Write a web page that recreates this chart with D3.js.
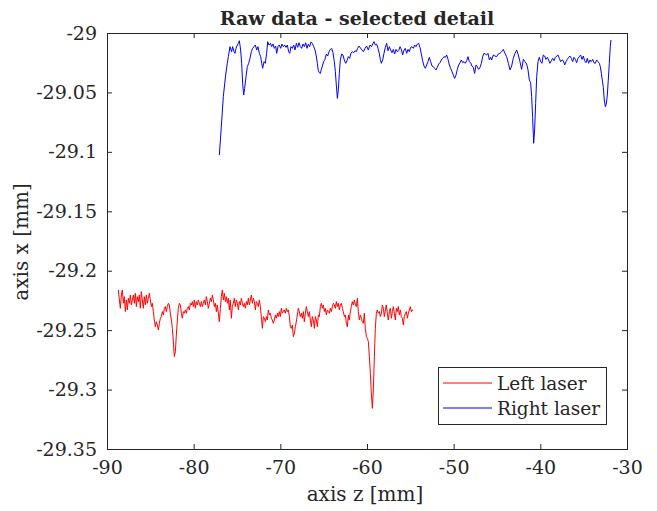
<!DOCTYPE html>
<html>
<head>
<meta charset="utf-8">
<script src="https://cdn.jsdelivr.net/npm/d3@7/dist/d3.min.js"></script>
<style>
  body { margin: 0; background: #fff; }
  svg { display: block; }
  text { font-family: "DejaVu Serif", serif; fill: #262626; }
</style>
</head>
<body>
<svg id="chart" width="657" height="511"></svg>
<script>
// Axis ticks and labels
const zTicks = [-90, -80, -70, -60, -50, -40, -30];
const zTickLabels = ["-90", "-80", "-70", "-60", "-50", "-40", "-30"];
const xTicks = [-29, -29.05, -29.1, -29.15, -29.2, -29.25, -29.3, -29.35];
const xTickLabels = ["-29", "-29.05", "-29.1", "-29.15", "-29.2", "-29.25", "-29.3", "-29.35"];

const seriesNames = ["Left laser", "Right laser"];
const seriesColors = ["#ff0000", "#0000ff"];

// Left laser: axis z [mm]
const zLeft = [
  -88.69,-88.57,-88.46,-88.34,-88.23,-88.11,-88.00,-87.88,-87.77,-87.65,-87.54,-87.42,-87.31,-87.19,-87.07,-86.96,-86.84,-86.73,-86.61,-86.50,-86.38,-86.27,-86.15,-86.04,-85.92,-85.81,
  -85.69,-85.57,-85.46,-85.34,-85.23,-85.11,-85.00,-84.88,-84.77,-84.65,-84.54,-84.42,-84.31,-84.19,-84.07,-83.96,-83.84,-83.73,-83.61,-83.50,-83.38,-83.27,-83.15,-83.04,-82.92,-82.81,
  -82.69,-82.57,-82.46,-82.34,-82.23,-82.11,-82.00,-81.88,-81.77,-81.65,-81.54,-81.42,-81.31,-81.19,-81.07,-80.96,-80.84,-80.73,-80.61,-80.50,-80.38,-80.27,-80.15,-80.04,-79.92,-79.81,
  -79.69,-79.57,-79.46,-79.34,-79.23,-79.11,-79.00,-78.88,-78.77,-78.65,-78.54,-78.42,-78.31,-78.19,-78.07,-77.96,-77.84,-77.73,-77.61,-77.50,-77.38,-77.27,-77.15,-77.04,-76.92,-76.81,
  -76.69,-76.57,-76.46,-76.34,-76.23,-76.11,-76.00,-75.88,-75.77,-75.65,-75.54,-75.42,-75.31,-75.19,-75.07,-74.96,-74.84,-74.73,-74.61,-74.50,-74.38,-74.27,-74.15,-74.04,-73.92,-73.81,
  -73.69,-73.57,-73.46,-73.34,-73.23,-73.11,-73.00,-72.88,-72.77,-72.65,-72.54,-72.42,-72.31,-72.19,-72.07,-71.96,-71.84,-71.73,-71.61,-71.50,-71.38,-71.27,-71.15,-71.04,-70.92,-70.81,
  -70.69,-70.57,-70.46,-70.34,-70.23,-70.11,-70.00,-69.88,-69.77,-69.65,-69.54,-69.42,-69.31,-69.19,-69.07,-68.96,-68.84,-68.73,-68.61,-68.50,-68.38,-68.27,-68.15,-68.04,-67.92,-67.81,
  -67.69,-67.57,-67.46,-67.34,-67.23,-67.11,-67.00,-66.88,-66.77,-66.65,-66.54,-66.42,-66.31,-66.19,-66.07,-65.96,-65.84,-65.73,-65.61,-65.50,-65.38,-65.27,-65.15,-65.04,-64.92,-64.81,
  -64.69,-64.57,-64.46,-64.34,-64.23,-64.11,-64.00,-63.88,-63.77,-63.65,-63.54,-63.42,-63.31,-63.19,-63.07,-62.96,-62.84,-62.73,-62.61,-62.50,-62.38,-62.27,-62.15,-62.04,-61.92,-61.81,
  -61.69,-61.57,-61.46,-61.34,-61.23,-61.11,-61.00,-60.88,-60.77,-60.65,-60.54,-60.42,-60.31,-60.19,-60.07,-59.96,-59.84,-59.73,-59.61,-59.50,-59.38,-59.27,-59.15,-59.04,-58.92,-58.81,
  -58.69,-58.57,-58.46,-58.34,-58.23,-58.11,-58.00,-57.88,-57.77,-57.65,-57.54,-57.42,-57.31,-57.19,-57.07,-56.96,-56.84,-56.73,-56.61,-56.50,-56.38,-56.27,-56.15,-56.04,-55.92,-55.81,
  -55.69,-55.57,-55.46,-55.34,-55.23,-55.11,-55.00,-54.88,-54.77,-54.65
];
// Left laser: axis x [mm]
const xLeft = [
  -29.2162,-29.2246,-29.2316,-29.2204,-29.2162,-29.2274,-29.2218,-29.2344,-29.2246,-29.2330,-29.2232,-29.2274,-29.2204,-29.2288,-29.2246,-29.2204,-29.2274,-29.2190,-29.2302,-29.2218,-29.2260,-29.2204,-29.2316,-29.2176,-29.2246,-29.2316,
  -29.2218,-29.2288,-29.2204,-29.2274,-29.2232,-29.2190,-29.2246,-29.2302,-29.2274,-29.2344,-29.2415,-29.2471,-29.2429,-29.2457,-29.2499,-29.2443,-29.2400,-29.2386,-29.2344,-29.2372,-29.2316,-29.2302,-29.2344,-29.2302,-29.2274,-29.2288,
  -29.2358,-29.2415,-29.2485,-29.2597,-29.2723,-29.2681,-29.2541,-29.2415,-29.2316,-29.2274,-29.2288,-29.2358,-29.2400,-29.2344,-29.2358,-29.2330,-29.2358,-29.2316,-29.2302,-29.2330,-29.2274,-29.2288,-29.2260,-29.2302,-29.2246,-29.2316,
  -29.2260,-29.2288,-29.2246,-29.2274,-29.2302,-29.2260,-29.2302,-29.2274,-29.2246,-29.2288,-29.2218,-29.2260,-29.2316,-29.2274,-29.2232,-29.2260,-29.2204,-29.2246,-29.2302,-29.2274,-29.2344,-29.2288,-29.2358,-29.2429,-29.2316,-29.2218,
  -29.2162,-29.2246,-29.2190,-29.2260,-29.2218,-29.2274,-29.2232,-29.2330,-29.2246,-29.2400,-29.2302,-29.2274,-29.2232,-29.2302,-29.2246,-29.2274,-29.2330,-29.2260,-29.2288,-29.2232,-29.2274,-29.2302,-29.2274,-29.2316,-29.2260,-29.2288,
  -29.2232,-29.2288,-29.2246,-29.2204,-29.2274,-29.2232,-29.2260,-29.2330,-29.2260,-29.2274,-29.2302,-29.2246,-29.2302,-29.2386,-29.2485,-29.2386,-29.2400,-29.2429,-29.2386,-29.2415,-29.2330,-29.2372,-29.2358,-29.2400,-29.2415,-29.2443,
  -29.2415,-29.2372,-29.2400,-29.2358,-29.2386,-29.2344,-29.2386,-29.2316,-29.2358,-29.2344,-29.2330,-29.2358,-29.2316,-29.2344,-29.2330,-29.2386,-29.2471,-29.2485,-29.2457,-29.2555,-29.2527,-29.2471,-29.2429,-29.2372,-29.2316,-29.2344,
  -29.2386,-29.2358,-29.2400,-29.2344,-29.2429,-29.2358,-29.2302,-29.2344,-29.2386,-29.2344,-29.2415,-29.2471,-29.2386,-29.2415,-29.2485,-29.2386,-29.2415,-29.2471,-29.2372,-29.2386,-29.2302,-29.2274,-29.2316,-29.2288,-29.2344,-29.2316,
  -29.2372,-29.2330,-29.2344,-29.2358,-29.2316,-29.2344,-29.2302,-29.2274,-29.2288,-29.2316,-29.2260,-29.2302,-29.2274,-29.2330,-29.2288,-29.2274,-29.2316,-29.2344,-29.2386,-29.2372,-29.2443,-29.2471,-29.2372,-29.2415,-29.2344,-29.2302,
  -29.2260,-29.2288,-29.2246,-29.2288,-29.2302,-29.2232,-29.2344,-29.2415,-29.2372,-29.2400,-29.2429,-29.2443,-29.2358,-29.2485,-29.2555,-29.2569,-29.2597,-29.2723,-29.2863,-29.3031,-29.3158,-29.3003,-29.2723,-29.2485,-29.2358,-29.2330,
  -29.2358,-29.2344,-29.2386,-29.2358,-29.2288,-29.2316,-29.2386,-29.2330,-29.2288,-29.2358,-29.2415,-29.2344,-29.2316,-29.2400,-29.2344,-29.2302,-29.2358,-29.2415,-29.2316,-29.2344,-29.2302,-29.2372,-29.2330,-29.2386,-29.2400,-29.2457,
  -29.2386,-29.2358,-29.2344,-29.2400,-29.2358,-29.2330,-29.2302,-29.2344,-29.2330,-29.2336
];

// Right laser: axis z [mm]
const zRight = [
  -77.04,-76.81,-76.58,-76.31,-76.12,-76.00,-75.81,-75.69,-75.62,-75.50,-75.35,-75.23,-75.12,-74.96,-74.85,-74.73,-74.58,-74.46,-74.35,-74.23,
  -74.12,-73.96,-73.81,-73.65,-73.50,-73.35,-73.19,-73.04,-72.88,-72.73,-72.58,-72.42,-72.27,-72.15,-72.04,-71.88,-71.73,-71.58,-71.46,-71.31,
  -71.15,-71.00,-70.85,-70.69,-70.54,-70.42,-70.27,-70.12,-69.96,-69.81,-69.65,-69.50,-69.35,-69.19,-69.04,-68.92,-68.77,-68.62,-68.46,-68.31,
  -68.15,-68.00,-67.85,-67.69,-67.54,-67.38,-67.23,-67.08,-66.92,-66.77,-66.62,-66.46,-66.31,-66.15,-66.00,-65.85,-65.73,-65.62,-65.50,-65.38,
  -65.27,-65.15,-65.00,-64.85,-64.69,-64.54,-64.38,-64.23,-64.08,-63.92,-63.77,-63.65,-63.54,-63.42,-63.31,-63.19,-63.08,-62.92,-62.77,-62.62,
  -62.46,-62.31,-62.15,-62.00,-61.85,-61.69,-61.54,-61.38,-61.23,-61.08,-60.92,-60.58,-60.42,-60.23,-60.04,-59.85,-59.65,-59.46,-59.31,-59.19,
  -59.04,-58.89,-58.73,-58.58,-58.46,-58.35,-58.19,-58.04,-57.89,-57.73,-57.58,-57.42,-57.27,-57.12,-56.96,-56.81,-56.65,-56.50,-56.35,-56.19,
  -56.04,-55.89,-55.73,-55.58,-55.42,-55.27,-55.12,-54.96,-54.81,-54.65,-54.50,-54.35,-54.19,-54.04,-53.89,-53.73,-53.58,-53.42,-53.27,-53.12,
  -52.96,-52.81,-52.65,-52.50,-52.35,-52.19,-52.04,-51.89,-51.73,-51.58,-51.42,-51.27,-51.12,-50.96,-50.81,-50.65,-50.50,-50.35,-50.19,-50.04,
  -49.89,-49.73,-49.58,-49.42,-49.27,-49.12,-48.96,-48.81,-48.65,-48.50,-48.35,-48.19,-48.04,-47.89,-47.73,-47.58,-47.42,-47.27,-47.12,-46.96,
  -46.81,-46.65,-46.50,-46.35,-46.19,-46.04,-45.88,-45.73,-45.62,-45.42,-45.23,-45.04,-44.85,-44.66,-44.46,-44.27,-44.08,-43.89,-43.69,-43.50,
  -43.31,-43.12,-42.92,-42.73,-42.54,-42.35,-42.16,-41.96,-41.77,-41.58,-41.42,-41.27,-41.12,-41.00,-40.89,-40.77,-40.66,-40.54,-40.42,-40.27,
  -40.12,-39.96,-39.81,-39.66,-39.50,-39.35,-39.19,-39.04,-38.89,-38.73,-38.58,-38.42,-38.27,-38.12,-37.96,-37.81,-37.66,-37.50,-37.35,-37.19,
  -37.04,-36.89,-36.73,-36.58,-36.42,-36.27,-36.12,-35.96,-35.81,-35.66,-35.50,-35.35,-35.19,-35.04,-34.89,-34.73,-34.58,-34.43,-34.27,-34.12,
  -33.96,-33.81,-33.66,-33.50,-33.35,-33.19,-33.08,-32.96,-32.85,-32.73,-32.62,-32.50,-32.39,-32.27,-32.16,-32.04,-31.93,-31.85
];
// Right laser: axis x [mm]
const xRight = [
  -29.1027,-29.0788,-29.0536,-29.0354,-29.0255,-29.0199,-29.0115,-29.0143,-29.0157,-29.0115,-29.0157,-29.0171,-29.0129,-29.0101,-29.0087,-29.0065,-29.0143,-29.0255,-29.0424,-29.0522,
  -29.0466,-29.0368,-29.0283,-29.0255,-29.0213,-29.0157,-29.0129,-29.0115,-29.0101,-29.0143,-29.0115,-29.0171,-29.0199,-29.0255,-29.0297,-29.0241,-29.0255,-29.0171,-29.0073,-29.0101,
  -29.0087,-29.0115,-29.0093,-29.0129,-29.0110,-29.0171,-29.0115,-29.0101,-29.0129,-29.0093,-29.0115,-29.0101,-29.0121,-29.0101,-29.0157,-29.0171,-29.0115,-29.0129,-29.0101,-29.0143,
  -29.0087,-29.0121,-29.0082,-29.0115,-29.0129,-29.0093,-29.0115,-29.0082,-29.0129,-29.0093,-29.0115,-29.0076,-29.0087,-29.0115,-29.0143,-29.0194,-29.0255,-29.0317,-29.0334,-29.0340,
  -29.0306,-29.0278,-29.0241,-29.0222,-29.0177,-29.0194,-29.0157,-29.0138,-29.0129,-29.0166,-29.0241,-29.0325,-29.0438,-29.0550,-29.0480,-29.0340,-29.0227,-29.0177,-29.0185,-29.0227,
  -29.0255,-29.0233,-29.0199,-29.0213,-29.0171,-29.0157,-29.0166,-29.0149,-29.0157,-29.0129,-29.0110,-29.0143,-29.0157,-29.0129,-29.0110,-29.0143,-29.0101,-29.0115,-29.0087,-29.0073,
  -29.0101,-29.0093,-29.0129,-29.0171,-29.0222,-29.0255,-29.0227,-29.0171,-29.0121,-29.0087,-29.0149,-29.0115,-29.0143,-29.0166,-29.0138,-29.0177,-29.0138,-29.0157,-29.0149,-29.0115,
  -29.0138,-29.0185,-29.0143,-29.0129,-29.0171,-29.0138,-29.0157,-29.0121,-29.0115,-29.0129,-29.0101,-29.0115,-29.0093,-29.0087,-29.0121,-29.0177,-29.0233,-29.0278,-29.0297,-29.0269,
  -29.0241,-29.0205,-29.0241,-29.0278,-29.0283,-29.0297,-29.0311,-29.0289,-29.0261,-29.0250,-29.0227,-29.0213,-29.0199,-29.0205,-29.0185,-29.0222,-29.0269,-29.0297,-29.0325,-29.0354,
  -29.0382,-29.0354,-29.0306,-29.0269,-29.0250,-29.0227,-29.0250,-29.0241,-29.0255,-29.0233,-29.0199,-29.0241,-29.0250,-29.0278,-29.0289,-29.0340,-29.0269,-29.0283,-29.0306,-29.0289,
  -29.0255,-29.0199,-29.0171,-29.0177,-29.0185,-29.0171,-29.0227,-29.0205,-29.0227,-29.0185,-29.0194,-29.0199,-29.0177,-29.0171,-29.0157,-29.0138,-29.0171,-29.0199,-29.0255,-29.0311,
  -29.0278,-29.0213,-29.0171,-29.0143,-29.0185,-29.0241,-29.0306,-29.0222,-29.0241,-29.0261,-29.0311,-29.0396,-29.0418,-29.0536,-29.0710,-29.0928,-29.0816,-29.0592,-29.0368,-29.0241,
  -29.0205,-29.0241,-29.0255,-29.0185,-29.0194,-29.0222,-29.0205,-29.0227,-29.0255,-29.0233,-29.0213,-29.0233,-29.0205,-29.0194,-29.0185,-29.0213,-29.0241,-29.0227,-29.0233,-29.0269,
  -29.0241,-29.0222,-29.0205,-29.0194,-29.0213,-29.0241,-29.0205,-29.0222,-29.0250,-29.0213,-29.0199,-29.0185,-29.0222,-29.0194,-29.0233,-29.0250,-29.0213,-29.0255,-29.0227,-29.0241,
  -29.0222,-29.0250,-29.0255,-29.0227,-29.0241,-29.0255,-29.0283,-29.0340,-29.0396,-29.0457,-29.0564,-29.0620,-29.0598,-29.0522,-29.0396,-29.0255,-29.0115,-29.0059
];

const W = 657, H = 511;
const plot = { left: 107, right: 627, top: 33, bottom: 449 };
const axisColor = "#262626";
const tickFont = 19, labelFont = 20, legendFont = 18.5;

const svg = d3.select("#chart");
svg.append("rect").attr("width", W).attr("height", H).attr("fill", "#fff");

const x = d3.scaleLinear().domain([-90, -30]).range([plot.left, plot.right]);
const y = d3.scaleLinear().domain([-29.35, -29]).range([plot.bottom, plot.top]);

// Axes with ticks pointing into the plot box
const gBottom = svg.append("g").attr("transform", `translate(0,${plot.bottom})`)
  .call(d3.axisBottom(x).tickValues(zTicks).tickFormat((d, i) => zTickLabels[i])
        .tickSizeInner(-5).tickSizeOuter(0).tickPadding(12));
const gTop = svg.append("g").attr("transform", `translate(0,${plot.top})`)
  .call(d3.axisTop(x).tickValues(zTicks).tickFormat("").tickSizeInner(-5).tickSizeOuter(0));
const gLeft = svg.append("g").attr("transform", `translate(${plot.left},0)`)
  .call(d3.axisLeft(y).tickValues(xTicks).tickFormat((d, i) => xTickLabels[i])
        .tickSizeInner(-5).tickSizeOuter(0).tickPadding(10));
const gRight = svg.append("g").attr("transform", `translate(${plot.right},0)`)
  .call(d3.axisRight(y).tickValues(xTicks).tickFormat("").tickSizeInner(-5).tickSizeOuter(0));

[gBottom, gTop, gLeft, gRight].forEach(g => {
  g.select(".domain").remove();
  g.selectAll(".tick line").attr("stroke", axisColor).attr("stroke-width", 1);
  g.selectAll(".tick text").attr("fill", axisColor)
    .style("font-family", '"DejaVu Serif", serif').style("font-size", tickFont + "px");
});

// Data lines, clipped to the axes box
svg.append("clipPath").attr("id", "plotclip").append("rect")
  .attr("x", plot.left).attr("y", plot.top)
  .attr("width", plot.right - plot.left).attr("height", plot.bottom - plot.top);

const line = d3.line().x(d => x(d[0])).y(d => y(d[1]));
const series = [d3.zip(zLeft, xLeft), d3.zip(zRight, xRight)];
svg.append("g").attr("clip-path", "url(#plotclip)")
  .selectAll("path").data(series).join("path")
  .attr("d", line)
  .attr("fill", "none")
  .attr("stroke", (d, i) => seriesColors[i])
  .attr("stroke-width", 1)
  .attr("stroke-linejoin", "round");

// Axes box
svg.append("rect")
  .attr("x", plot.left + 0.5).attr("y", plot.top + 0.5)
  .attr("width", plot.right - plot.left).attr("height", plot.bottom - plot.top)
  .attr("fill", "none").attr("stroke", axisColor).attr("stroke-width", 1);

// Title and axis labels
svg.append("text").attr("x", 357).attr("y", 25).attr("text-anchor", "middle")
  .style("font-size", "19px").style("font-weight", "bold").attr("fill", "#000")
  .text("Raw data - selected detail");
svg.append("text").attr("x", 365).attr("y", 501).attr("text-anchor", "middle")
  .style("font-size", labelFont + "px").text("axis z [mm]");
svg.append("text").attr("transform", "translate(28,242) rotate(-90)").attr("text-anchor", "middle")
  .style("font-size", labelFont + "px").text("axis x [mm]");

// Legend
const legend = svg.append("g");
legend.append("rect").attr("x", 438.5).attr("y", 367.5).attr("width", 168).attr("height", 57)
  .attr("fill", "#fff").attr("stroke", axisColor).attr("stroke-width", 1);
seriesNames.forEach((name, i) => {
  const cy = 383 + i * 25;
  legend.append("line").attr("x1", 443).attr("x2", 492).attr("y1", cy).attr("y2", cy)
    .attr("stroke", seriesColors[i]).attr("stroke-width", 1);
  legend.append("text").attr("x", 497).attr("y", cy + 6.5)
    .style("font-size", legendFont + "px").attr("fill", "#000").text(name);
});
</script>
</body>
</html>
